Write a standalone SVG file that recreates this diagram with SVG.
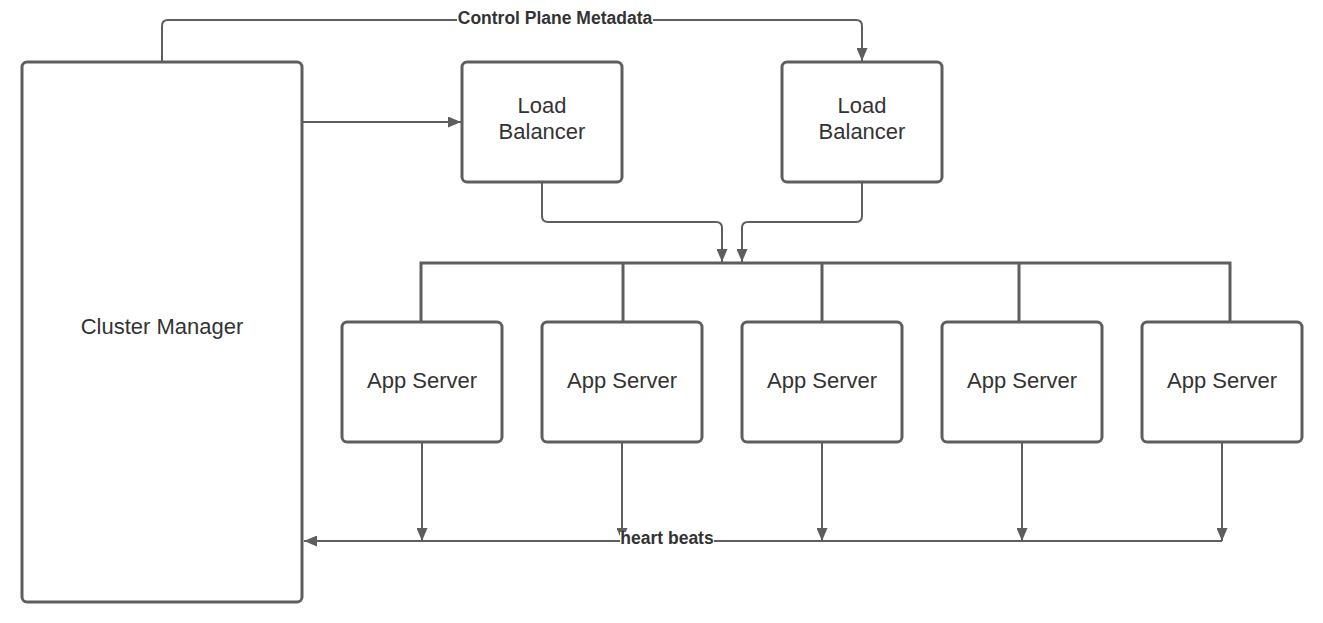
<svg xmlns="http://www.w3.org/2000/svg" width="1323" height="623" viewBox="0 0 1323 623">
<style>
.box{fill:#fff;stroke:#5e5e5e;stroke-width:3}
.lbl{font-family:"Liberation Sans",Arial,sans-serif;font-size:22px;fill:#333;text-anchor:middle}
.cl{fill:none;stroke:#5e5e5e;stroke-width:2}
.bus{fill:none;stroke:#5e5e5e;stroke-width:3}
.el{font-family:"Liberation Sans",Arial,sans-serif;font-size:17.5px;font-weight:bold;fill:#333;text-anchor:middle}
</style>
<defs>
<marker id="ah" markerWidth="13" markerHeight="11" refX="13" refY="5.5" orient="auto" markerUnits="userSpaceOnUse">
<path d="M0,0 L13,5.5 L0,11 Z" fill="#5e5e5e"/>
</marker>
</defs>
<g id="connectors">
<path class="cl" d="M162,62 V26 Q162,20 168,20 H856 Q862,20 862,26 V61" marker-end="url(#ah)"/>
<path class="cl" d="M303,122 H461" marker-end="url(#ah)"/>
<path class="cl" d="M542,182 V216 Q542,222 548,222 H716 Q722,222 722,228 V262" marker-end="url(#ah)"/>
<path class="cl" d="M862,182 V216 Q862,222 856,222 H748 Q742,222 742,228 V262" marker-end="url(#ah)"/>
<path class="bus" d="M421,322 V263 H1230 V322 M623,263 V322 M822,263 V322 M1019,263 V322"/>
<path class="cl" d="M422,442 V541" marker-end="url(#ah)"/>
<path class="cl" d="M622,442 V541" marker-end="url(#ah)"/>
<path class="cl" d="M822,442 V541" marker-end="url(#ah)"/>
<path class="cl" d="M1022,442 V541" marker-end="url(#ah)"/>
<path class="cl" d="M1222,442 V541" marker-end="url(#ah)"/>
<path class="cl" d="M1222,541 H304" marker-end="url(#ah)"/>
<rect x="457" y="10" width="196" height="17" fill="#fff"/>
<text class="el" x="555" y="24">Control Plane Metadata</text>
<rect x="620" y="532" width="94" height="15" fill="#fff"/>
<text class="el" x="667" y="544">heart beats</text>
</g>
<g id="cluster-manager"><rect class="box" x="22" y="62" width="280" height="540" rx="5"/><text class="lbl" x="162" y="334">Cluster Manager</text></g>
<g id="lb1"><rect class="box" x="462" y="62" width="160" height="120" rx="5"/><text class="lbl" x="542" y="113">Load</text><text class="lbl" x="542" y="139">Balancer</text></g>
<g id="lb2"><rect class="box" x="782" y="62" width="160" height="120" rx="5"/><text class="lbl" x="862" y="113">Load</text><text class="lbl" x="862" y="139">Balancer</text></g>
<g id="app1"><rect class="box" x="342" y="322" width="160" height="120" rx="5"/><text class="lbl" x="422" y="388">App Server</text></g>
<g id="app2"><rect class="box" x="542" y="322" width="160" height="120" rx="5"/><text class="lbl" x="622" y="388">App Server</text></g>
<g id="app3"><rect class="box" x="742" y="322" width="160" height="120" rx="5"/><text class="lbl" x="822" y="388">App Server</text></g>
<g id="app4"><rect class="box" x="942" y="322" width="160" height="120" rx="5"/><text class="lbl" x="1022" y="388">App Server</text></g>
<g id="app5"><rect class="box" x="1142" y="322" width="160" height="120" rx="5"/><text class="lbl" x="1222" y="388">App Server</text></g>
</svg>
